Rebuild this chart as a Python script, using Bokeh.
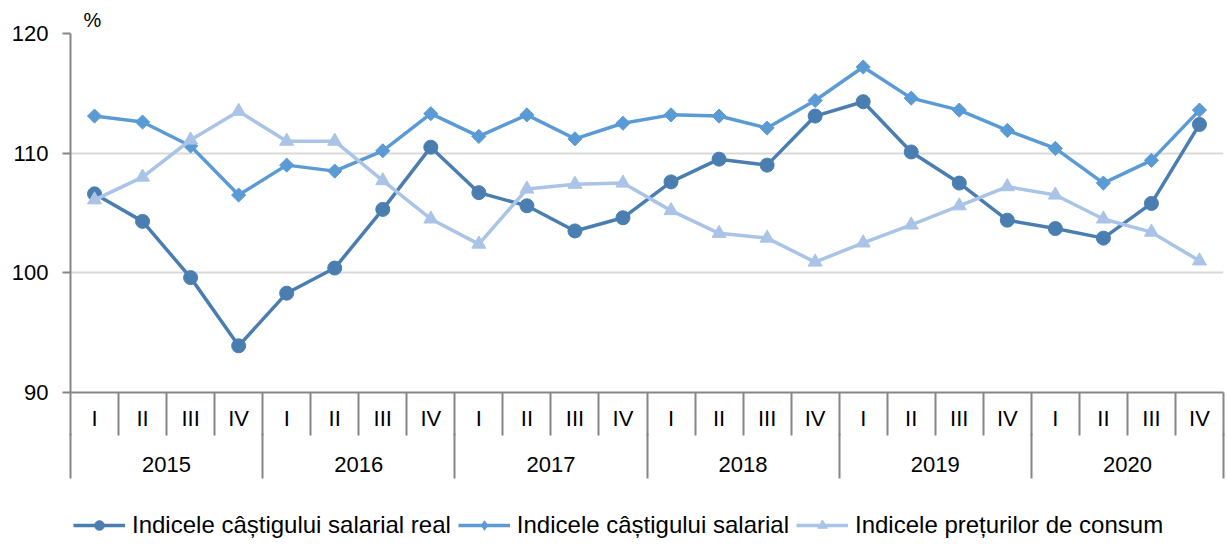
import math
from bokeh.plotting import figure
from bokeh.layouts import column
from bokeh.models import Range1d, LinearAxis, FixedTicker, Legend, LegendItem, Grid, Title
from bokeh.embed import file_html
from bokeh.resources import INLINE

years = ["2015", "2016", "2017", "2018", "2019", "2020"]
quarters = ["I", "II", "III", "IV"]

real_wage_index = [106.6, 104.3, 99.6, 93.9,
                   98.3, 100.4, 105.3, 110.5,
                   106.7, 105.6, 103.5, 104.6,
                   107.6, 109.5, 109.0, 113.1,
                   114.3, 110.1, 107.5, 104.4,
                   103.7, 102.9, 105.8, 112.4]
nominal_wage_index = [113.1, 112.6, 110.6, 106.5,
                      109.0, 108.5, 110.2, 113.3,
                      111.4, 113.2, 111.2, 112.5,
                      113.2, 113.1, 112.1, 114.4,
                      117.2, 114.6, 113.6, 111.9,
                      110.4, 107.5, 109.4, 113.6]
cpi = [106.1, 108.0, 111.1, 113.5,
       111.0, 111.0, 107.7, 104.5,
       102.4, 107.0, 107.4, 107.5,
       105.2, 103.3, 102.9, 100.9,
       102.5, 104.0, 105.6, 107.2,
       106.5, 104.5, 103.4, 101.0]

series_names = ["Indicele câștigului salarial real",
                "Indicele câștigului salarial",
                "Indicele prețurilor de consum"]
y_ticks = [90, 100, 110, 120]

FONT = "Liberation Sans"
AXIS_GREY = "#868686"
GRID_GREY = "#D9D9D9"
colors = ["#4A7EB0", "#5B9BD5", "#A9C4E6"]
markers = ["circle", "square", "triangle"]
legend_markers = ["circle", "diamond", "triangle"]
msizes = [14, 10, 14]
legend_msizes = [12, 14, 12]
mangles = [0, math.pi / 4, 0]

nq = len(quarters)
n = len(years) * nq
xs = list(range(n))

W = 1225
p = figure(width=W, height=488,
           x_range=Range1d(-0.5, n - 0.5), y_range=Range1d(y_ticks[0], y_ticks[-1]),
           output_backend="svg", toolbar_location=None,
           x_axis_type=None, y_axis_type=None,
           min_border_left=70, min_border_top=33, min_border_right=2, min_border_bottom=96)
p.outline_line_color = None
p.background_fill_color = "white"

p.add_layout(Title(text="%", align="left", offset=13, standoff=6,
                   text_font=FONT, text_font_size="20px", text_font_style="normal",
                   text_color="black"), "above")

# Y axis
yaxis = LinearAxis(ticker=FixedTicker(ticks=y_ticks, minor_ticks=[]))
yaxis.axis_line_color = AXIS_GREY
yaxis.axis_line_width = 2
yaxis.major_tick_line_color = AXIS_GREY
yaxis.major_tick_line_width = 2
yaxis.major_tick_out = 8
yaxis.major_tick_in = 0
yaxis.minor_tick_line_color = None
yaxis.major_label_text_font = FONT
yaxis.major_label_text_font_size = "22px"
yaxis.major_label_text_color = "black"
yaxis.major_label_standoff = 14
p.add_layout(yaxis, "left")

p.add_layout(Grid(dimension=1, ticker=yaxis.ticker,
                  grid_line_color=GRID_GREY, grid_line_width=2))

# Quarter axis (minor ticks are the cell separators)
q_axis = LinearAxis(ticker=FixedTicker(ticks=xs, minor_ticks=[i - 0.5 for i in range(n + 1)]))
q_axis.major_label_overrides = {i: quarters[i % nq] for i in xs}
q_axis.axis_line_color = AXIS_GREY
q_axis.axis_line_width = 2
q_axis.major_tick_line_color = None
q_axis.major_tick_out = 0
q_axis.major_tick_in = 0
q_axis.minor_tick_line_color = AXIS_GREY
q_axis.minor_tick_line_width = 2
q_axis.minor_tick_out = 43
q_axis.minor_tick_in = 0
q_axis.major_label_text_font = FONT
q_axis.major_label_text_font_size = "22px"
q_axis.major_label_text_color = "black"
q_axis.major_label_standoff = -30
p.add_layout(q_axis, "below")

# Year axis
year_centers = [k * nq + (nq - 1) / 2 for k in range(len(years))]
yr_axis = LinearAxis(ticker=FixedTicker(ticks=year_centers,
                                        minor_ticks=[k * nq - 0.5 for k in range(len(years) + 1)]))
yr_axis.major_label_overrides = {c: yr for c, yr in zip(year_centers, years)}
yr_axis.axis_line_color = None
yr_axis.major_tick_line_color = None
yr_axis.major_tick_out = 0
yr_axis.major_tick_in = 0
yr_axis.minor_tick_line_color = AXIS_GREY
yr_axis.minor_tick_line_width = 2
yr_axis.minor_tick_out = 45
yr_axis.minor_tick_in = 0
yr_axis.major_label_text_font = FONT
yr_axis.major_label_text_font_size = "22px"
yr_axis.major_label_text_color = "black"
yr_axis.major_label_standoff = -22
p.add_layout(yr_axis, "below")

# legend strip: its own small figure below the chart; the same series are
# plotted there too, but its y range lies outside the data so only the legend shows
lg = figure(width=W, height=56, output_backend="svg", toolbar_location=None,
            x_axis_type=None, y_axis_type=None,
            x_range=Range1d(-0.5, n - 0.5), y_range=Range1d(0, 1),
            min_border_left=0, min_border_right=0, min_border_top=0, min_border_bottom=0)
lg.outline_line_color = None

items = []
for vals, name, col, mk, ms, ma, lmk, lms in zip(
        [real_wage_index, nominal_wage_index, cpi], series_names, colors,
        markers, msizes, mangles, legend_markers, legend_msizes):
    p.line(xs, vals, line_color=col, line_width=3.5)
    p.scatter(xs, vals, marker=mk, size=ms, angle=ma, fill_color=col, line_color=col)
    lr = lg.line(xs, vals, line_color=col, line_width=3.5)
    sr = lg.scatter(xs, vals, marker=lmk, size=lms, fill_color=col, line_color=col)
    items.append(LegendItem(label=name, renderers=[lr, sr]))

legend = Legend(items=items, orientation="horizontal", location=(3, 5),
                padding=0, margin=0, spacing=7, glyph_width=52, glyph_height=24,
                label_standoff=7, label_text_font=FONT, label_text_font_size="24px",
                label_text_color="black", border_line_color=None,
                background_fill_alpha=0)
lg.add_layout(legend, "center")

open("out.html", "w").write(file_html(column(p, lg, spacing=0), INLINE))
